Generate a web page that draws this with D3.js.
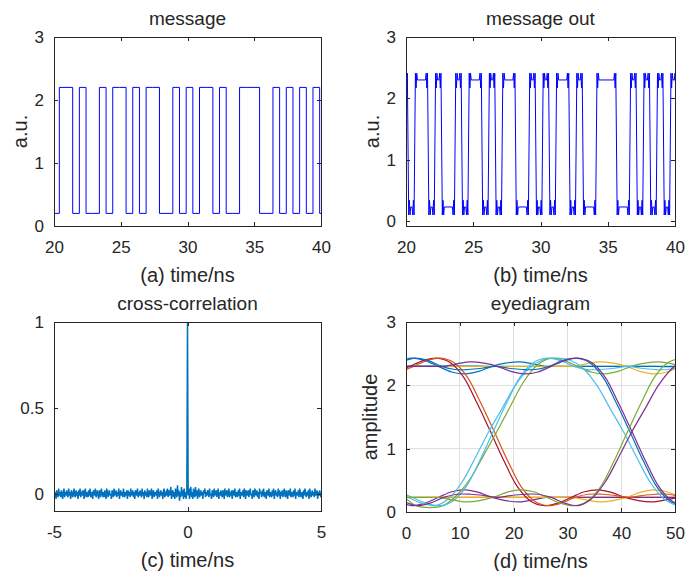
<!DOCTYPE html>
<html><head><meta charset="utf-8">
<script src="https://cdn.jsdelivr.net/npm/d3@7"></script>
<style>
body{margin:0;background:#fff;}
svg text{font-family:"Liberation Sans", Arial, Helvetica, sans-serif; fill:#262626;}
</style></head><body>
<svg id="chart" width="685" height="571"></svg>
<script>
// ---------------- data ----------------
// message bits (bit index 0 starts at firstBitTime), period in ns
const bits = [1,0, 1,1,0,1,0,0,1,0,1,1, 0,1,0,1,1,0,0,1,0,1, 0,1,1,0,1,0,0,1,1,1, 0,0,1,0,1,0,1,0,1,0];
const bitPeriod = 0.5;
const firstBitTime = 19.4;
const msgLevels = [0.2, 2.2];
// received message: delay and ringing around each edge
const outDelay = 0.25;
const outLevels = [0.23, 2.30];
const edgeOffsets = [-0.2, -0.15, -0.1, -0.05, 0.05, 0.1, 0.15, 0.2];
const riseShape = [0.23, 0.10, 0.34, 0.10, 2.41, 2.17, 2.41, 2.30];
const fallShape = [2.30, 2.41, 2.17, 2.41, 0.10, 0.34, 0.10, 0.23];
// cross-correlation (lag from -5 ns in 0.025 ns steps)
const lagStart = -5, lagStep = 0.025;
const xcorrValues = [
0.02,-0.01,0.01,-0.03,0.02,0,-0.02,0.03,-0.01,0.01,
-0.02,0.02,0,-0.03,0.01,0.03,-0.02,0.01,-0.01,0.02,
0,-0.02,0.03,-0.01,0.01,-0.03,0.02,0.01,-0.02,0,
0.03,-0.01,-0.02,0.02,0,0.01,-0.03,0.02,-0.01,0.03,
-0.02,0,0.01,-0.01,0.02,-0.03,0.01,0.03,-0.02,0.01,
0,-0.02,0.02,-0.01,0.03,-0.02,0,0.01,-0.03,0.02,
0.01,-0.01,0.03,-0.02,0,0.02,-0.01,-0.03,0.02,0.01,
-0.02,0.03,0,-0.01,0.01,-0.02,0.02,0,-0.03,0.03,
0.01,-0.02,0.01,0.02,-0.01,0,-0.03,0.02,0.01,-0.02,
0.03,-0.01,0,0.02,-0.02,0.01,-0.01,0.03,-0.03,0,
0.02,-0.01,0.01,-0.02,0.03,0,-0.02,0.01,-0.01,0.02,
-0.03,0.02,0,0.01,-0.02,0.03,-0.01,0,0.02,-0.02,
0.01,-0.03,0.02,0.01,-0.01,0.03,-0.02,0,-0.01,0.02,
0,-0.02,0.03,-0.01,0.01,-0.03,0.02,0,0.01,-0.02,
0.03,-0.01,-0.02,0.02,0,-0.01,0.03,-0.03,0.01,0.02,
-0.02,0.01,0,-0.01,0.02,-0.03,0.03,0.01,-0.02,0,
0.02,-0.01,0.01,-0.03,0.02,0.03,-0.02,0,0.01,-0.01,
0.03,-0.02,0.02,-0.01,0,0.04,-0.03,0.01,0.02,-0.02,
0.01,-0.03,0.03,0,-0.02,0.05,-0.01,0.02,-0.04,0.01,
-0.02,0.04,-0.01,0.02,-0.03,0.03,-0.02,0.01,-0.03,0.02,
1,
-0.01,0.03,-0.03,0.02,0.04,-0.02,0.01,-0.03,0.03,0,
-0.02,0.04,-0.01,0.02,-0.03,0.01,0.03,-0.02,0,0.02,
-0.01,0.01,-0.03,0.02,0,0.03,-0.02,0.01,-0.01,0.02,
0.01,-0.02,0.03,-0.01,0,-0.03,0.02,0.01,-0.02,0.03,
-0.01,0,0.02,-0.02,0.01,0.03,-0.03,0.01,-0.01,0.02,
0,-0.02,0.02,0.01,-0.03,0.03,-0.01,0,0.02,-0.02,
0.01,0.03,-0.02,0,-0.01,0.02,-0.03,0.02,0.01,-0.01,
0.03,-0.02,0,0.01,-0.02,0.02,-0.01,0.03,-0.03,0.01,
0,-0.01,0.02,-0.02,0.03,0.01,-0.03,0.02,0,-0.01,
0.02,-0.02,0.01,0.03,-0.01,0,-0.03,0.02,0.01,-0.02,
0.03,0,-0.01,0.02,-0.02,0.01,-0.03,0.03,0,0.01,
-0.02,0.02,-0.01,0.03,-0.02,0,0.01,-0.03,0.02,0.01,
-0.01,0.03,-0.02,0.01,0,-0.02,0.02,-0.01,0.03,-0.03,
0.01,0.02,-0.01,0,-0.02,0.03,-0.01,0.02,-0.03,0.01,
0,0.02,-0.02,0.01,0.03,-0.01,-0.02,0.02,0,-0.03,
0.02,0.01,-0.01,0.03,-0.02,0,0.01,-0.02,0.02,-0.01,
0.03,-0.03,0.01,0,-0.01,0.02,-0.02,0.03,0.01,-0.02,
0,0.01,-0.03,0.02,-0.01,0.03,0,-0.02,0.01,-0.01,
0.02,-0.03,0.03,0.01,-0.02,0,0.02,-0.01,0.01,-0.02,
0.03,-0.01,0,0.02,-0.03,0.01,-0.01,0.02,0,-0.02];
// eye diagram
const eyeTimes = [-1.5,1,3.5,6,8.5,11,13.5,16,18.5,21,23.5,26,28.5,31,33.5,36,38.5,41,43.5,46,48.5,51];
const eyeTraces = [
[0.23,0.23,0.23,0.23,0.23,0.23,0.23,0.23,0.23,0.23,0.23,0.23,0.23,0.23,0.23,0.23,0.23,0.23,0.23,0.23,0.23,0.23],
[0.17,0.10,0.14,0.23,0.32,0.35,0.31,0.23,0.18,0.16,0.19,0.23,0.23,0.23,0.23,0.23,0.23,0.23,0.23,0.23,0.23,0.23],
[0.23,0.23,0.23,0.23,0.23,0.23,0.23,0.23,0.23,0.23,0.23,0.23,0.23,0.23,0.19,0.16,0.18,0.23,0.31,0.35,0.32,0.23],
[2.31,2.31,2.31,2.31,2.31,2.31,2.31,2.30,2.30,2.30,2.30,2.30,2.30,2.30,2.30,2.30,2.30,2.30,2.30,2.30,2.29,2.29],
[2.36,2.43,2.39,2.30,2.21,2.18,2.22,2.30,2.35,2.37,2.34,2.30,2.30,2.30,2.30,2.30,2.30,2.30,2.30,2.30,2.30,2.30],
[2.30,2.30,2.30,2.30,2.30,2.30,2.30,2.30,2.30,2.30,2.30,2.30,2.30,2.30,2.34,2.37,2.35,2.30,2.22,2.18,2.21,2.30],
[2.21,2.30,2.39,2.43,2.36,2.13,1.72,1.27,0.81,0.40,0.17,0.10,0.14,0.23,0.32,0.35,0.31,0.23,0.18,0.16,0.19,0.23],
[2.21,2.30,2.39,2.43,2.36,2.13,1.72,1.27,0.81,0.40,0.17,0.10,0.14,0.23,0.28,0.28,0.26,0.23,0.26,0.28,0.28,0.23],
[0.32,0.23,0.14,0.10,0.21,0.47,0.86,1.27,1.64,2.01,2.27,2.40,2.43,2.40,2.27,2.01,1.64,1.27,0.86,0.47,0.21,0.10],
[0.26,0.10,0.07,0.10,0.26,0.52,0.89,1.27,1.67,2.06,2.32,2.43,2.39,2.30,2.21,2.18,2.22,2.30,2.35,2.37,2.34,2.30],
[0.32,0.23,0.14,0.10,0.17,0.40,0.81,1.27,1.72,2.13,2.36,2.43,2.39,2.30,2.25,2.25,2.27,2.30,2.27,2.25,2.25,2.30],
[2.36,2.43,2.39,2.30,2.25,2.25,2.27,2.30,2.27,2.25,2.25,2.30,2.39,2.43,2.36,2.13,1.72,1.27,0.81,0.40,0.17,0.10],
[2.30,2.30,2.30,2.30,2.34,2.37,2.35,2.30,2.22,2.18,2.21,2.30,2.39,2.43,2.36,2.13,1.72,1.27,0.81,0.40,0.17,0.10],
[0.23,0.23,0.23,0.23,0.19,0.16,0.18,0.23,0.31,0.35,0.32,0.23,0.14,0.10,0.17,0.40,0.81,1.27,1.72,2.13,2.36,2.43],
[0.17,0.10,0.14,0.23,0.28,0.28,0.26,0.23,0.26,0.28,0.28,0.23,0.14,0.10,0.21,0.47,0.86,1.27,1.64,2.01,2.27,2.43]
];
const eyeColors = ["#D95319","#7E2F8E","#EDB120","#4DBEEE","#0072BD","#EDB120","#A2142F","#D95319","#4DBEEE","#77AC30","#4DBEEE","#0072BD","#7E2F8E","#77AC30","#7E2F8E"];
const eyeJitter = [0,0,0,0,0,0,-0.3,0.4,-0.6,0.9,0.2,0.6,1.0,0.2,1.0];

// ---------------- drawing ----------------
const svg = d3.select("#chart");
const axisColor = "#262626";
let clipId = 0;

function panel(o) {
  const g = svg.append("g").attr("transform", `translate(${o.left},${o.top})`);
  const x = d3.scaleLinear().domain(o.xDomain).range([0, o.width]);
  const y = d3.scaleLinear().domain(o.yDomain).range([o.height, 0]);
  g.append("rect").attr("width", o.width).attr("height", o.height).attr("fill", "#fff");
  if (o.grid) {
    g.append("g").selectAll("line").data(o.xTicks.filter(t => t > o.xDomain[0] && t < o.xDomain[1]))
      .join("line").attr("x1", d => x(d)).attr("x2", d => x(d)).attr("y1", 0).attr("y2", o.height)
      .attr("stroke", "#dfdfdf").attr("stroke-width", 1).attr("shape-rendering", "crispEdges");
    g.append("g").selectAll("line").data(o.yTicks.filter(t => t > o.yDomain[0] && t < o.yDomain[1]))
      .join("line").attr("y1", d => y(d)).attr("y2", d => y(d)).attr("x1", 0).attr("x2", o.width)
      .attr("stroke", "#dfdfdf").attr("stroke-width", 1).attr("shape-rendering", "crispEdges");
  }
  const id = "clip" + (clipId++);
  g.append("clipPath").attr("id", id).append("rect").attr("width", o.width).attr("height", o.height);
  const plot = g.append("g").attr("clip-path", `url(#${id})`);
  return {g, x, y, plot, o};
}

function finishAxes(p) {
  const {g, x, y, o} = p;
  const tk = 4;
  const fx = o.xFmt || (d => d3.format("~g")(d).replace("−", "-"));
  const fy = o.yFmt || (d => d3.format("~g")(d));
  const ax = g.append("g").attr("transform", `translate(0,${o.height})`)
    .call(d3.axisBottom(x).tickValues(o.xTicks).tickSize(-tk).tickPadding(15).tickFormat(fx));
  const axT = g.append("g").call(d3.axisTop(x).tickValues(o.xTicks).tickSize(-tk).tickFormat(""));
  const ay = g.append("g").call(d3.axisLeft(y).tickValues(o.yTicks).tickSize(-tk).tickPadding(10).tickFormat(fy));
  const ayR = g.append("g").attr("transform", `translate(${o.width},0)`)
    .call(d3.axisRight(y).tickValues(o.yTicks).tickSize(-tk).tickFormat(""));
  [ax, axT, ay, ayR].forEach(a => {
    a.select(".domain").remove();
    a.selectAll("line").attr("stroke", axisColor).attr("shape-rendering", "crispEdges");
    a.selectAll("text").style("font-size", "17px").attr("fill", axisColor);
  });
  g.append("rect").attr("width", o.width).attr("height", o.height).attr("fill", "none")
    .attr("stroke", axisColor).attr("stroke-width", 1).attr("shape-rendering", "crispEdges");
  g.append("text").attr("x", o.width / 2).attr("y", -12).attr("text-anchor", "middle")
    .style("font-size", "19px").text(o.title);
  g.append("text").attr("x", o.width / 2).attr("y", o.height + 56).attr("text-anchor", "middle")
    .style("font-size", "20px").text(o.xLabel);
  if (o.yLabel) {
    g.append("text").attr("transform", `translate(${o.yLabelX},${o.height / 2}) rotate(-90)`)
      .attr("text-anchor", "middle").attr("dy", "0.35em").style("font-size", "20px").text(o.yLabel);
  }
}

// (a) message
const pa = panel({left: 54, top: 37, width: 267, height: 189, xDomain: [20, 40], yDomain: [0, 3],
  xTicks: [20, 25, 30, 35, 40], yTicks: [0, 1, 2, 3], title: "message", xLabel: "(a) time/ns",
  yLabel: "a.u.", yLabelX: -34});
const msgPts = bits.map((b, i) => [firstBitTime + i * bitPeriod, msgLevels[b]]);
msgPts.push([firstBitTime + bits.length * bitPeriod, msgLevels[bits[bits.length - 1]]]);
pa.plot.append("path").datum(msgPts)
  .attr("d", d3.line().x(d => pa.x(d[0])).y(d => pa.y(d[1])).curve(d3.curveStepAfter))
  .attr("fill", "none").attr("stroke", "#0000FF").attr("stroke-width", 1);
finishAxes(pa);

// (b) message out
const pb = panel({left: 406, top: 37, width: 269, height: 189, xDomain: [20, 40], yDomain: [-0.08, 3],
  xTicks: [20, 25, 30, 35, 40], yTicks: [0, 1, 2, 3], title: "message out", xLabel: "(b) time/ns",
  yLabel: "a.u.", yLabelX: -34});
const outPts = [[firstBitTime + outDelay, outLevels[bits[0]]]];
for (let i = 1; i < bits.length; i++) {
  if (bits[i] !== bits[i - 1]) {
    const te = firstBitTime + i * bitPeriod + outDelay;
    const shape = bits[i] ? riseShape : fallShape;
    edgeOffsets.forEach((dt, j) => outPts.push([te + dt, shape[j]]));
  }
}
outPts.push([firstBitTime + bits.length * bitPeriod + outDelay, outLevels[bits[bits.length - 1]]]);
pb.plot.append("path").datum(outPts)
  .attr("d", d3.line().x(d => pb.x(d[0])).y(d => pb.y(d[1])))
  .attr("fill", "none").attr("stroke", "#0000FF").attr("stroke-width", 1);
finishAxes(pb);

// (c) cross-correlation
const pc = panel({left: 54, top: 322, width: 267, height: 189, xDomain: [-5, 5], yDomain: [-0.1, 1],
  xTicks: [-5, 0, 5], yTicks: [0, 0.5, 1], title: "cross-correlation", xLabel: "(c) time/ns"});
pc.plot.append("path").datum(xcorrValues)
  .attr("d", d3.line().x((d, i) => pc.x(lagStart + i * lagStep)).y(d => pc.y(d)))
  .attr("fill", "none").attr("stroke", "#0072BD").attr("stroke-width", 1.5);
finishAxes(pc);

// (d) eye diagram
const pd = panel({left: 406, top: 322, width: 269, height: 190, xDomain: [0, 50], yDomain: [0, 3],
  xTicks: [0, 10, 20, 30, 40, 50], yTicks: [0, 1, 2, 3], title: "eyediagram", xLabel: "(d) time/ns",
  yLabel: "amplitude", yLabelX: -36, grid: true});
const eyeLine = (j) => d3.line()
  .x((d, k) => pd.x(eyeTimes[k] + eyeJitter[j])).y(d => pd.y(d))
  .curve(d3.curveCatmullRom.alpha(0.5));
eyeTraces.forEach((tr, j) => {
  pd.plot.append("path").datum(tr).attr("d", eyeLine(j))
    .attr("fill", "none").attr("stroke", eyeColors[j]).attr("stroke-width", 1.2);
});
finishAxes(pd);
</script>
</body></html>
